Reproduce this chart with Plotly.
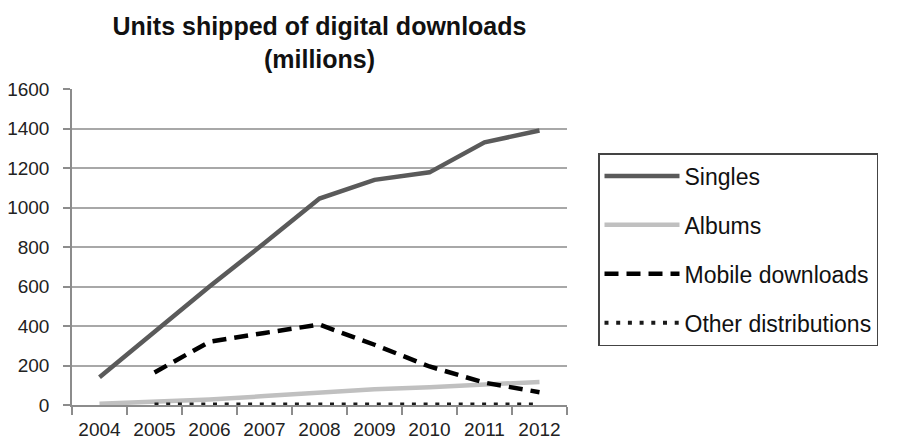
import plotly.graph_objects as go

years = ["2004", "2005", "2006", "2007", "2008", "2009", "2010", "2011", "2012"]
singles = [140, 370, 600, 820, 1045, 1140, 1178, 1330, 1390]
albums = [6, 15, 28, 45, 64, 80, 90, 103, 117]
mobile = [None, 165, 320, 365, 407, 305, 195, 113, 65]
other = [None, 3, 3, 3, 3, 3, 3, 3, 3]

W, H = 899, 443
L, R, T, B = 72, 567, 89, 405

fig = go.Figure()
fig.add_trace(go.Scatter(x=years, y=singles, name="Singles", mode="lines",
                         line=dict(color="#5a5a5a", width=4.5), legendgroup="a"))
fig.add_trace(go.Scatter(x=years, y=albums, name="Albums", mode="lines",
                         line=dict(color="#c0c0c0", width=4.5), legendgroup="b"))
fig.add_trace(go.Scatter(x=years, y=mobile, name="Mobile downloads", mode="lines",
                         line=dict(color="#000000", width=4.5, dash="14px,8px"), legendgroup="c"))
fig.add_trace(go.Scatter(x=years, y=other, name="Other distributions", mode="lines",
                         line=dict(color="#1a1a1a", width=4, dash="4px,7.7px"), legendgroup="d"))

font = "Arial, Liberation Sans, Helvetica, sans-serif"
fig.update_layout(
    width=W, height=H,
    margin=dict(l=L, r=W - R, t=T, b=H - B, pad=0),
    paper_bgcolor="white", plot_bgcolor="white",
    font=dict(family=font, color="#222222", size=19),
    title=dict(text="<b>Units shipped of digital downloads<br>(millions)</b>",
               x=(L + R) / 2 / W, xanchor="center", y=1 - 35 / H, yanchor="top",
               font=dict(size=25, color="#111111")),
    xaxis=dict(type="category", range=[-0.5, 8.5], automargin=False,
               showline=True, linecolor="#8c8c8c", linewidth=1.5,
               ticks="outside", tickson="boundaries", ticklen=8, tickcolor="#8c8c8c",
               tickwidth=1.5, showgrid=False, tickfont=dict(size=19),
               ticklabelstandoff=6, fixedrange=True),
    yaxis=dict(range=[0, 1600], dtick=200, showline=True, linecolor="#8c8c8c", linewidth=1.5,
               automargin=False,
               ticks="outside", ticklen=7, tickcolor="#8c8c8c", tickwidth=1.5,
               gridcolor="#a8a8a8", gridwidth=1.5, zeroline=False,
               tickfont=dict(size=19), ticklabelstandoff=10, fixedrange=True),
    legend=dict(x=(598 - L) / (R - L), xanchor="left", y=(B - 153) / (B - T), yanchor="top",
                bordercolor="#444444", borderwidth=1.5, bgcolor="white",
                font=dict(size=23, color="#111111"), tracegroupgap=16,
                itemwidth=75),
    showlegend=True,
)
fig.write_html("out.html")
